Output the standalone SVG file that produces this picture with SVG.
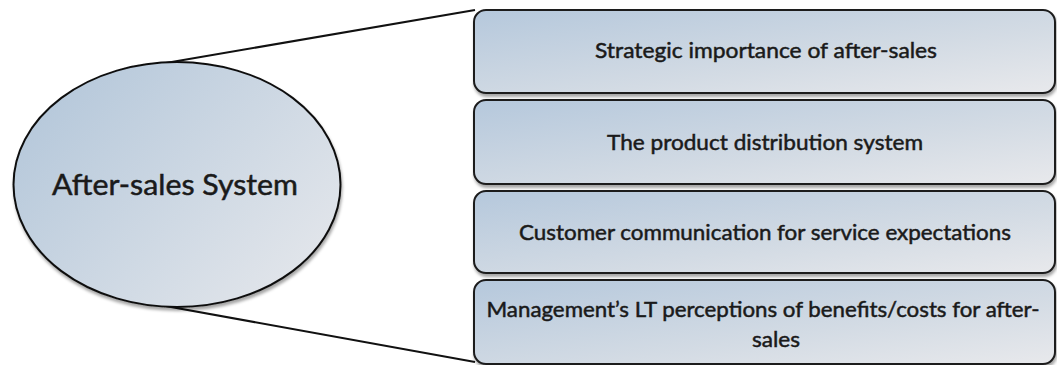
<svg xmlns="http://www.w3.org/2000/svg" width="1057" height="365" viewBox="0 0 1057 365">
<defs>
<linearGradient id="gBox" x1="0" y1="0" x2="1" y2="1">
<stop offset="0" stop-color="#b5c8dc"/>
<stop offset="0.6" stop-color="#d3dbe4"/>
<stop offset="1" stop-color="#e8e9ec"/>
</linearGradient>
<linearGradient id="gEll" x1="0" y1="0.2" x2="1" y2="0.9">
<stop offset="0" stop-color="#b4c7da"/>
<stop offset="0.6" stop-color="#d2dbe5"/>
<stop offset="1" stop-color="#e6e8ec"/>
</linearGradient>
<filter id="sh" x="-5%" y="-10%" width="110%" height="130%">
<feDropShadow dx="1" dy="3" stdDeviation="1.5" flood-color="#000" flood-opacity="0.35"/>
</filter>
</defs>
<style>
.box{fill:url(#gBox);stroke:#1c1c1c;stroke-width:2;filter:url(#sh)}
.lbl{font-family:Lato,"Liberation Sans",sans-serif;font-size:22px;fill:#1a1a1a;stroke:#1a1a1a;stroke-width:0.5;text-anchor:middle}
.conn{stroke:#111;stroke-width:2;fill:none}
</style>
<g id="connectors">
<line class="conn" x1="160" y1="64" x2="475" y2="10"/>
<line class="conn" x1="160" y1="305" x2="475" y2="362"/>
</g>
<g id="node-system">
<ellipse cx="177" cy="184.5" rx="163.5" ry="122.5" fill="url(#gEll)" stroke="#111" stroke-width="2" filter="url(#sh)"/>
<text class="lbl" x="175" y="195" style="font-size:29px" textLength="246" lengthAdjust="spacingAndGlyphs">After-sales System</text>
</g>
<g id="node-strategic">
<rect class="box" x="474" y="10" width="581" height="83" rx="12"/>
<text class="lbl" x="766" y="58" textLength="342" lengthAdjust="spacingAndGlyphs">Strategic importance of after-sales</text>
</g>
<g id="node-distribution">
<rect class="box" x="474" y="100" width="581" height="84" rx="12"/>
<text class="lbl" x="765" y="150" textLength="316" lengthAdjust="spacingAndGlyphs">The product distribution system</text>
</g>
<g id="node-communication">
<rect class="box" x="474" y="191" width="581" height="82" rx="12"/>
<text class="lbl" x="765" y="240" textLength="492" lengthAdjust="spacingAndGlyphs">Customer communication for service expectations</text>
</g>
<g id="node-management">
<rect class="box" x="474" y="280" width="581" height="84" rx="12"/>
<text class="lbl" x="763" y="317" textLength="553" lengthAdjust="spacingAndGlyphs">Management’s LT perceptions of benefits/costs for after-</text>
<text class="lbl" x="776" y="347" textLength="48" lengthAdjust="spacingAndGlyphs">sales</text>
</g>
</svg>
